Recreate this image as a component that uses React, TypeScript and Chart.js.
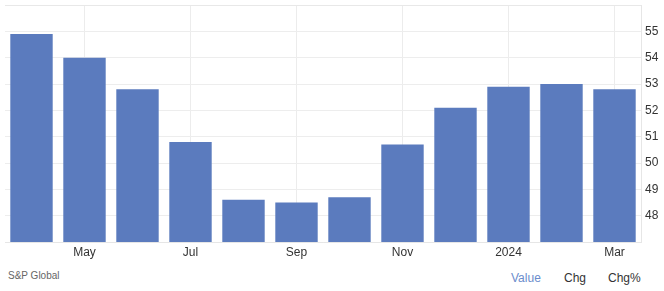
import React, { useEffect, useRef } from "react";
import { Chart, registerables } from "chart.js";

Chart.register(...registerables);

const categories = ["Apr", "May", "Jun", "Jul", "Aug", "Sep", "Oct", "Nov", "Dec", "Jan", "Feb", "Mar"];
const values = [54.9, 54.0, 52.8, 50.8, 48.6, 48.5, 48.7, 50.7, 52.1, 52.9, 53.0, 52.8];
const xTickLabels = ["", "May", "", "Jul", "", "Sep", "", "Nov", "", "2024", "", "Mar"];
const yTickValues = [48, 49, 50, 51, 52, 53, 54, 55];
const footerSource = "S&P Global";
const footerTabs = ["Value", "Chg", "Chg%"];

const FONT = "Arial, 'Liberation Sans', sans-serif";

export default function App() {
  const ref = useRef<HTMLCanvasElement | null>(null);

  useEffect(() => {
    document.body.style.margin = "0";
    const canvas = ref.current!;
    const chart = new Chart(canvas, {
      type: "bar",
      data: {
        labels: categories,
        datasets: [
          {
            data: values,
            backgroundColor: "#5b7bbe",
            borderWidth: 0,
            barPercentage: 0.8,
            categoryPercentage: 1.0,
          },
        ],
      },
      options: {
        animation: false,
        responsive: false,
        maintainAspectRatio: false,
        layout: { padding: { top: 5, left: 5, right: 0, bottom: 0 } },
        plugins: { legend: { display: false }, tooltip: { enabled: false } },
        scales: {
          x: {
            grid: {
              offset: false,
              color: (ctx: any) => (xTickLabels[ctx.index] ? "#ececec" : "rgba(0,0,0,0)"),
              lineWidth: 1,
              drawTicks: false,
            },
            border: { display: true, color: "#e6e6e6" },
            ticks: {
              autoSkip: false,
              maxRotation: 0,
              padding: 3,
              color: "#333333",
              font: { family: FONT, size: 12 },
              callback: (_v: any, i: number) => xTickLabels[i],
            },
            afterFit: (scale: any) => {
              scale.height = 20;
              scale.paddingLeft = 0;
              scale.paddingRight = 0;
            },
          },
          y: {
            position: "right",
            min: 47,
            max: 56,
            grid: {
              color: (ctx: any) => (ctx.tick && ctx.tick.value === 56 ? "#e8e8e8" : "#ededed"),
              lineWidth: 1,
              drawTicks: false,
            },
            border: { display: true, color: "#e6e6e6" },
            afterBuildTicks: (scale: any) => {
              scale.ticks = [47, ...yTickValues, 56].map((v) => ({ value: v }));
            },
            ticks: {
              padding: 4,
              color: "#333333",
              font: { family: FONT, size: 12 },
              callback: (v: any) => (yTickValues.includes(Number(v)) ? String(v) : ""),
            },
            afterFit: (scale: any) => {
              scale.width = 23;
              scale.paddingTop = 0;
              scale.paddingBottom = 0;
            },
          },
        },
      },
    });
    return () => chart.destroy();
  }, []);

  return (
    <div style={{ position: "relative", width: 664, height: 291, background: "#fff", fontFamily: FONT }}>
      <canvas ref={ref} width={664} height={262} style={{ position: "absolute", left: 0, top: 0 }} />
      <span style={{ position: "absolute", left: 8, top: 270, fontSize: 10, color: "#666" }}>{footerSource}</span>
      <span style={{ position: "absolute", left: 511, top: 271, fontSize: 12, color: "#6b8ccc" }}>{footerTabs[0]}</span>
      <span style={{ position: "absolute", left: 564, top: 271, fontSize: 12, color: "#333" }}>{footerTabs[1]}</span>
      <span style={{ position: "absolute", left: 608, top: 271, fontSize: 12, color: "#333" }}>{footerTabs[2]}</span>
    </div>
  );
}
